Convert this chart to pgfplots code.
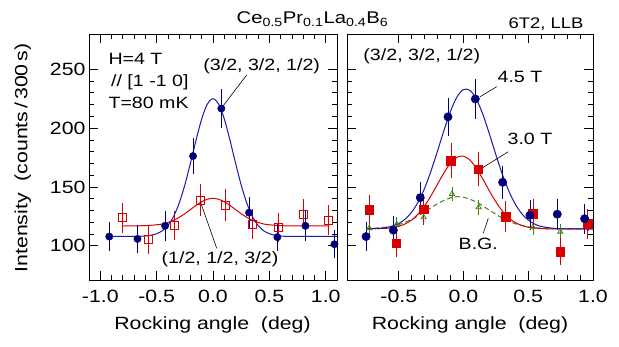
\documentclass[border=0pt]{standalone}
\usepackage{fontspec}
\setmainfont{Liberation Sans}[FakeStretch=1.2]
\usepackage{pgfplots}
\pgfplotsset{compat=1.18}

\definecolor{navy}{RGB}{0,0,120}
\definecolor{fitblue}{RGB}{25,25,175}
\definecolor{datared}{RGB}{215,0,0}
\definecolor{bggreen}{RGB}{70,130,20}

\newcommand{\lab}{\fontsize{16.4}{16.4}\selectfont}

\pgfplotsset{
  panel/.style={
    scale only axis, height=246bp,
    ymin=71, ymax=280,
    ytick={100,150,200,250}, minor y tick num=4,
    minor x tick num=4,
    tick align=inside,
    major tick length=9bp, minor tick length=5bp,
    axis line style={line width=0.9bp},
    every tick/.style={black, line width=0.8bp},
    tick label style={font=\fontsize{17.8}{17.8}\selectfont},
    xticklabel style={anchor=base, yshift=-22.7bp},
    clip=false,
  },
  witherr/.style={
    error bars/.cd, y dir=both, y explicit,
    error bar style={line width=0.7bp, #1},
    error mark options={line width=0.7bp, mark size=2bp, #1},
  },
  fit/.style={line width=1bp, smooth},
}

\begin{document}
\begin{tikzpicture}
\useasboundingbox (-89bp,-67bp) rectangle (530bp,280bp);

% ---------- left panel: two reflections at 4 T ----------
\begin{axis}[panel, at={(0,0)}, anchor=south west, width=248bp,
    xmin=-1.1, xmax=1.1,
    xtick={-1,-0.5,0,0.5,1}, xticklabels={-1.0,-0.5,0.0,0.5,1.0},
    yticklabels={100,150,200,250}]

  % (1/2, 1/2, 3/2)
  \addplot[datared, fit] coordinates {
    (-0.805,117.0) (-0.7,117.0) (-0.6,117.2) (-0.5,117.9) (-0.45,118.6)
    (-0.4,119.9) (-0.35,121.7) (-0.3,124.2) (-0.25,127.3) (-0.2,130.8)
    (-0.15,134.4) (-0.1,137.5) (-0.05,139.6) (0,140.4) (0.05,139.6)
    (0.1,137.5) (0.15,134.4) (0.2,130.8) (0.25,127.3) (0.3,124.2)
    (0.35,121.7) (0.4,119.9) (0.45,118.6) (0.5,117.9) (0.6,117.2)
    (0.7,117.0) (1.023,117.0)};
  \addplot[only marks, mark=square, mark size=4bp,
      mark options={draw=datared, fill=white, line width=0.8bp},
      witherr=datared]
    table[x=x, y=y, y error=e] {
      x       y      e
      -0.805  124.0  11.1
      -0.574  105.1  10.3
      -0.346  117.2  10.8
      -0.115  139.0  11.8
       0.113  134.7  11.6
       0.349  118.4  10.9
       0.580  115.8  10.8
       0.802  127.0  11.3
       1.023  122.0  11.0
    };

  % (3/2, 3/2, 1/2)
  \addplot[fitblue, fit] coordinates {
    (-0.92,108.0) (-0.7,108.0) (-0.6,108.4) (-0.55,109.0) (-0.5,110.3)
    (-0.45,112.8) (-0.4,117.4) (-0.35,124.9) (-0.3,136.3) (-0.25,151.7)
    (-0.2,170.3) (-0.15,190.0) (-0.1,207.9) (-0.05,220.5) (0,225.0)
    (0.05,220.5) (0.1,207.9) (0.15,190.0) (0.2,170.3) (0.25,151.7)
    (0.3,136.3) (0.35,124.9) (0.4,117.4) (0.45,112.8) (0.5,110.3)
    (0.55,109.0) (0.6,108.4) (0.7,108.0) (1.1,108.0)};
  \addplot[only marks, mark=*, mark size=3.7bp,
      mark options={draw=navy, fill=navy},
      witherr=navy]
    table[x=x, y=y, y error=e] {
      x       y      e
      -0.920  107.9  10.4
      -0.670  105.9  10.3
      -0.425  117.0  10.8
      -0.177  176.3  13.3
       0.074  216.7  14.7
       0.320  128.2  11.3
       0.571  107.4  10.4
       0.820  117.0  10.8
       1.077  101.4  10.1
    };

  \node[anchor=base west, font=\lab] at (axis cs:-0.958,253.7) {H=4 T};
  \node[anchor=base west, font=\lab] at (axis cs:-0.935,235.2) {// [1 -1 0]};
  \node[anchor=base west, font=\lab] at (axis cs:-0.958,216.9) {T=80 mK};

  \node[anchor=base, font=\lab] at (axis cs:0.432,248.8) {(3/2, 3/2, 1/2)};
  \draw[line width=0.6bp] (axis cs:0.299,245.2) -- (axis cs:0.09,219);
  \node[anchor=base, font=\lab] at (axis cs:0.062,85.2) {(1/2, 1/2, 3/2)};
  \draw[line width=0.6bp] (axis cs:0.033,97.9) -- (axis cs:-0.11,137);
\end{axis}

% ---------- right panel: (3/2, 3/2, 1/2) versus field ----------
\begin{axis}[panel, at={(258bp,0)}, anchor=south west, width=246bp,
    xmin=-0.9, xmax=1.0,
    xtick={-0.5,0,0.5,1}, xticklabels={-0.5,0.0,0.5,1.0},
    yticklabels={}]

  % background
  \addplot[bggreen, fit, dash pattern=on 5bp off 3bp] coordinates {
    (-0.753,114.6) (-0.6,115.8) (-0.5,118.1) (-0.4,122.5) (-0.3,128.9)
    (-0.2,135.9) (-0.1,140.9) (-0.04,141.8) (0,141.4) (0.1,137.2)
    (0.2,130.3) (0.3,123.6) (0.4,118.8) (0.5,116.1) (0.6,115.0)
    (0.7,114.6) (1.0,114.4)};
  \addplot[only marks, mark=triangle, mark size=3bp,
      mark options={draw=bggreen, fill=white, line width=0.8bp},
      witherr=bggreen]
    table[x=x, y=y, y error=e] {
      x       y      e
      -0.728  115.0  4.5
      -0.516  118.4  4.5
      -0.308  124.3  4.5
      -0.089  144.1  4.5
       0.117  132.8  4.5
       0.325  122.0  4.5
       0.536  115.8  4.5
       0.747  112.1  4.5
       0.961  118.6  4.5
    };

  % 3.0 T
  \addplot[datared, fit] coordinates {
    (-0.753,114.4) (-0.6,114.9) (-0.55,115.5) (-0.5,116.6) (-0.45,118.7)
    (-0.4,122.0) (-0.35,127.1) (-0.3,134.1) (-0.25,142.8) (-0.2,152.6)
    (-0.15,162.3) (-0.1,170.4) (-0.05,175.3) (0,176.2) (0.05,172.8)
    (0.1,165.8) (0.15,156.6) (0.2,146.6) (0.25,137.4) (0.3,129.6)
    (0.35,123.8) (0.4,119.8) (0.45,117.3) (0.5,115.9) (0.6,114.7)
    (0.7,114.4) (1.0,114.4)};
  \addplot[only marks, mark=square*, mark size=4.3bp,
      mark options={draw=datared, fill=datared},
      witherr=datared]
    table[x=x, y=y, y error=e] {
      x       y      e
      -0.730  130.5  11.4
      -0.519  102.3  10.1
      -0.308  131.1  11.4
      -0.097  172.3  13.1
       0.114  165.0  12.8
       0.325  124.8  11.2
       0.536  127.1  11.3
       0.747   95.2   9.8
       0.959  118.6  10.9
    };

  % 4.5 T
  \addplot[fitblue, fit] coordinates {
    (-0.753,114.4) (-0.65,114.9) (-0.6,115.6) (-0.55,116.8) (-0.5,119.0)
    (-0.45,122.8) (-0.4,128.7) (-0.35,137.4) (-0.3,149.1) (-0.25,164.0)
    (-0.2,180.9) (-0.15,198.5) (-0.1,214.5) (-0.05,226.6) (0,232.8)
    (0.05,232.1) (0.1,224.6) (0.15,211.5) (0.2,195.0) (0.25,177.4)
    (0.3,160.8) (0.35,146.5) (0.4,135.4) (0.45,127.3) (0.5,121.9)
    (0.55,118.5) (0.6,116.5) (0.7,114.9) (0.8,114.5) (1.0,114.4)};
  \addplot[only marks, mark=*, mark size=4.2bp,
      mark options={draw=navy, fill=navy},
      witherr=navy]
    table[x=x, y=y, y error=e] {
      x       y      e
      -0.753  107.9  10.4
      -0.542  113.3  10.6
      -0.334  141.0  11.9
      -0.120  209.6  14.5
       0.091  224.8  15.0
       0.302  154.0  12.4
       0.513  126.0  11.2
       0.724  126.9  11.3
       0.935  123.1  11.1
    };

  \node[anchor=base west, font=\lab] at (axis cs:-0.80,257.3) {(3/2, 3/2, 1/2)};
  \node[anchor=base, font=\lab] at (axis cs:0.436,238.6) {4.5 T};
  \draw[line width=0.6bp] (axis cs:0.256,235.2) -- (axis cs:0.127,226.7);
  \node[anchor=base, font=\lab] at (axis cs:0.513,185.7) {3.0 T};
  \draw[line width=0.6bp] (axis cs:0.346,180) -- (axis cs:0.140,165.9);
  \node[anchor=base, font=\lab] at (axis cs:0.114,96.5) {B.G.};
  \draw[line width=0.6bp] (axis cs:0.153,110.7) -- (axis cs:0.191,123.4);
\end{axis}

% titles and axis labels
\node[anchor=base, font=\fontsize{17}{17}\selectfont] at (223.5bp,256bp)
  {Ce\textsubscript{0.5}Pr\textsubscript{0.1}La\textsubscript{0.4}B\textsubscript{6}};
\node[anchor=base, font=\fontsize{15.4}{15.4}\selectfont] at (457bp,251.7bp) {6T2, LLB};
\node[anchor=base, font=\fontsize{17.8}{17.8}\selectfont] at (123.5bp,-49.3bp) {Rocking angle\ \ (deg)};
\node[anchor=base, font=\fontsize{17.8}{17.8}\selectfont] at (381bp,-49.3bp) {Rocking angle\ \ (deg)};
\node[anchor=base, rotate=90, font=\fontsize{17.8}{17.8}\selectfont] at (-61.7bp,122bp)
  {Intensity\ \ (counts\,/\,300\,s)};
\end{tikzpicture}
\end{document}
